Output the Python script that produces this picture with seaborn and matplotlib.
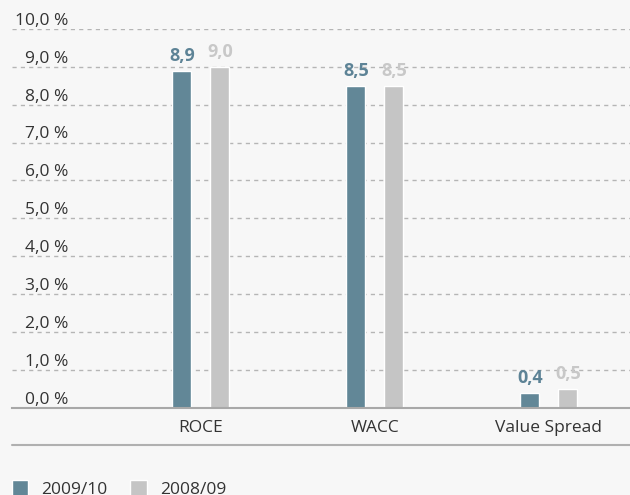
import pandas as pd
import matplotlib
matplotlib.use('Agg')
import matplotlib.pyplot as plt
import matplotlib.transforms as mtransforms
import seaborn as sns

categories = ['ROCE', 'WACC', 'Value Spread']
years = ['2009/10', '2008/09']
values_2009_10 = [8.9, 8.5, 0.4]
values_2008_09 = [9.0, 8.5, 0.5]
y_ticks = [0, 1, 2, 3, 4, 5, 6, 7, 8, 9, 10]

colors = ['#628797', '#c5c5c5']
label_colors = ['#5d8396', '#c8c8c8']
bg = '#f7f7f7'
text_col = '#333333'

df = pd.DataFrame({
    'category': categories * 2,
    'year': [years[0]] * 3 + [years[1]] * 3,
    'value': values_2009_10 + values_2008_09,
})

sns.set_theme(style='white')
plt.rcParams['font.family'] = ['Open Sans', 'DejaVu Sans']

fig = plt.figure(figsize=(6.3, 4.95), dpi=100, facecolor=bg)
ax = fig.add_axes([12 / 630, 1 - 407.7 / 495, 618 / 630, (407.7 - 29) / 495])
ax.set_facecolor(bg)

sns.barplot(data=df, x='category', y='value', hue='year', hue_order=years,
            palette=colors, width=0.437, gap=0.5, saturation=1, ax=ax)

ax.set_xlim(-1.086, 2.466)
ax.set_ylim(0, 10)
ax.set_xlabel('')
ax.set_ylabel('')

# value labels
for cont, col in zip(ax.containers, label_colors):
    labels = [f'{b.get_height():.1f}'.replace('.', ',') for b in cont]
    ax.bar_label(cont, labels=labels, padding=4, color=col, fontsize=13,
                 fontweight='bold', fontstretch='normal')

# gridlines
ax.set_yticks(y_ticks)
ax.yaxis.grid(True, linestyle=(0, (3, 3)), color='#b5b5b5', linewidth=1)
ax.set_axisbelow(True)
ax.tick_params(axis='y', length=0, labelleft=False)
ax.tick_params(axis='x', length=0, pad=9, labelsize=12.5, labelcolor=text_col)

for s in ['top', 'right', 'left']:
    ax.spines[s].set_visible(False)
ax.spines['bottom'].set_color('#a8a8a8')
ax.spines['bottom'].set_linewidth(1.5)

# y tick labels sitting above the grid lines
trans = mtransforms.blended_transform_factory(ax.transAxes, ax.transData)
for v in y_ticks:
    ax.annotate(f'{v:.1f} %'.replace('.', ','), xy=(0.0906, v), xycoords=trans,
                xytext=(0, 3), textcoords='offset points',
                ha='right', va='baseline', fontsize=12.5, color=text_col,
                annotation_clip=False)

# lower rule under the category labels
ax.axhline(-0.985, color='#b0b0b0', linewidth=1.5, clip_on=False)

# legend at the bottom (cut by the lower edge, as in the original)
handles, labels = ax.get_legend_handles_labels()
ax.get_legend().remove()
fig.legend(handles, labels, loc='upper left', bbox_to_anchor=(0.019, 0.03),
           ncol=2, frameon=False, fontsize=12.5, handlelength=0.95,
           handleheight=1.1, handletextpad=0.75, columnspacing=1.3,
           labelcolor=text_col, borderpad=0, borderaxespad=0)

fig.savefig('out.png', dpi=100, facecolor=bg)
